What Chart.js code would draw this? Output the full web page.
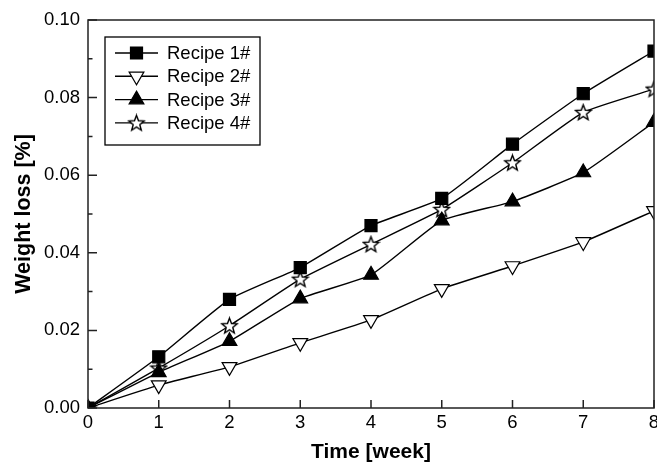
<!DOCTYPE html>
<html>
<head>
<meta charset="utf-8">
<script src="https://cdn.jsdelivr.net/npm/chart.js@4"></script>
<style>
  html, body { margin: 0; padding: 0; background: #fff; }
  #wrap { width: 657px; height: 465px; position: relative; }
</style>
</head>
<body>
<div id="wrap"><canvas id="c" width="657" height="465"></canvas></div>
<script>
const weeks = [0, 1, 2, 3, 4, 5, 6, 7, 8];
const recipe1 = [0, 0.0132, 0.028, 0.0362, 0.047, 0.054, 0.068, 0.081, 0.092];
const recipe2 = [0, 0.0059, 0.0106, 0.0168, 0.0227, 0.0307, 0.0366, 0.0428, 0.0508];
const recipe3 = [0, 0.0092, 0.0172, 0.0282, 0.0343, 0.0483, 0.0532, 0.0607, 0.0737];
const recipe4 = [0, 0.0103, 0.0212, 0.0332, 0.0422, 0.0512, 0.0632, 0.0762, 0.0822];
const seriesLabels = ['Recipe 1#', 'Recipe 2#', 'Recipe 3#', 'Recipe 4#'];
const xTitle = 'Time [week]';
const yTitle = 'Weight loss [%]';

function makeStar(size) {
  const cv = document.createElement('canvas');
  cv.width = size; cv.height = size;
  const g = cv.getContext('2d');
  const cx = size / 2, cy = size / 2 + 0.6, R = size / 2 - 1.3, r = R * 0.42;
  g.beginPath();
  for (let i = 0; i < 10; i++) {
    const a = -Math.PI / 2 + i * Math.PI / 5;
    const rr = (i % 2 === 0) ? R : r;
    const x = cx + rr * Math.cos(a), y = cy + rr * Math.sin(a);
    if (i === 0) g.moveTo(x, y); else g.lineTo(x, y);
  }
  g.closePath();
  g.fillStyle = '#fff';
  g.fill();
  g.lineWidth = 1.4;
  g.strokeStyle = '#000';
  g.stroke();
  return cv;
}
const starImg = makeStar(19);

function toXY(arr) { return weeks.map((w, i) => ({ x: w, y: arr[i] })); }

const common = { borderColor: '#000', borderWidth: 1.4, tension: 0.15, pointBorderColor: '#000', pointBorderWidth: 1.2, fill: false };

const datasets = [
  Object.assign({}, common, { label: seriesLabels[0], data: toXY(recipe1), pointStyle: 'rect', pointRadius: 8.5, pointBackgroundColor: '#000' }),
  Object.assign({}, common, { label: seriesLabels[1], data: toXY(recipe2), pointStyle: 'triangle', pointRotation: 180, pointRadius: 8.5, pointBackgroundColor: '#fff' }),
  Object.assign({}, common, { label: seriesLabels[2], data: toXY(recipe3), pointStyle: 'triangle', pointRadius: 8.5, pointBackgroundColor: '#000' }),
  Object.assign({}, common, { label: seriesLabels[3], data: toXY(recipe4), pointStyle: starImg, pointRadius: 9, pointBackgroundColor: '#fff' })
];

const AXIS_COLOR = '#222';
const FONT = '"Liberation Sans", Arial, sans-serif';

const framePlugin = {
  id: 'frame',
  afterDraw(chart) {
    const ctx = chart.ctx;
    const a = chart.chartArea;
    const xs = chart.scales.x, ys = chart.scales.y;
    ctx.save();
    ctx.strokeStyle = AXIS_COLOR;
    ctx.lineWidth = 1.5;
    ctx.strokeRect(a.left, a.top, a.right - a.left, a.bottom - a.top);
    ctx.beginPath();
    xs.ticks.forEach(t => {
      const px = xs.getPixelForValue(t.value);
      ctx.moveTo(px, a.bottom);
      ctx.lineTo(px, a.bottom - 8);
    });
    for (let k = 0; k <= 10; k++) {
      const py = ys.getPixelForValue(k * 0.01);
      const major = k % 2 === 0;
      ctx.moveTo(a.left, py);
      ctx.lineTo(a.left + (major ? 9 : 4.5), py);
    }
    ctx.stroke();

    // legend
    const lx = 105, ly = 37, lw = 155, lh = 108;
    ctx.fillStyle = '#fff';
    ctx.fillRect(lx, ly, lw, lh);
    ctx.lineWidth = 1.3;
    ctx.strokeStyle = '#000';
    ctx.strokeRect(lx, ly, lw, lh);
    ctx.font = '18.5px ' + FONT;
    ctx.textBaseline = 'middle';
    ctx.textAlign = 'left';
    chart.data.datasets.forEach((ds, i) => {
      const y = 53 + i * 23.3;
      ctx.beginPath();
      ctx.lineWidth = 1.4;
      ctx.strokeStyle = '#000';
      ctx.moveTo(115, y);
      ctx.lineTo(158, y);
      ctx.stroke();
      ctx.fillStyle = ds.pointBackgroundColor;
      ctx.strokeStyle = '#000';
      ctx.lineWidth = ds.pointBorderWidth;
      Chart.helpers.drawPoint(ctx, {
        pointStyle: ds.pointStyle,
        radius: ds.pointRadius,
        rotation: ds.pointRotation || 0,
        borderWidth: ds.pointBorderWidth
      }, 136.5, y);
      ctx.fillStyle = '#000';
      ctx.fillText(ds.label, 167, y + 1);
    });
    ctx.restore();
  }
};

new Chart(document.getElementById('c'), {
  type: 'line',
  data: { datasets },
  options: {
    responsive: false,
    animation: false,
    devicePixelRatio: 1,
    layout: { autoPadding: false, padding: { left: 0, right: 3, top: 20, bottom: 0 } },
    plugins: { legend: { display: false }, tooltip: { enabled: false } },
    scales: {
      x: {
        type: 'linear', min: 0, max: 8,
        ticks: { stepSize: 1, color: '#000', font: { size: 18.5, family: FONT }, padding: 4, maxRotation: 0 },
        grid: { display: false, drawTicks: false },
        border: { display: false },
        title: { display: true, text: xTitle, color: '#000', font: { size: 21, weight: 'bold', family: FONT }, padding: { top: 0, bottom: 0 } },
        afterFit(s) { s.height = 57; s.paddingLeft = 0; s.paddingRight = 0; }
      },
      y: {
        type: 'linear', min: 0, max: 0.1,
        ticks: { stepSize: 0.02, color: '#000', font: { size: 18.5, family: FONT }, padding: 8, callback: v => v.toFixed(2) },
        grid: { display: false, drawTicks: false },
        border: { display: false },
        title: { display: true, text: yTitle, color: '#000', font: { size: 21.5, weight: 'bold', family: FONT }, padding: { top: 11, bottom: 0 } },
        afterFit(s) { s.width = 88; s.paddingTop = 0; s.paddingBottom = 0; }
      }
    }
  },
  plugins: [framePlugin]
});
</script>
</body>
</html>
